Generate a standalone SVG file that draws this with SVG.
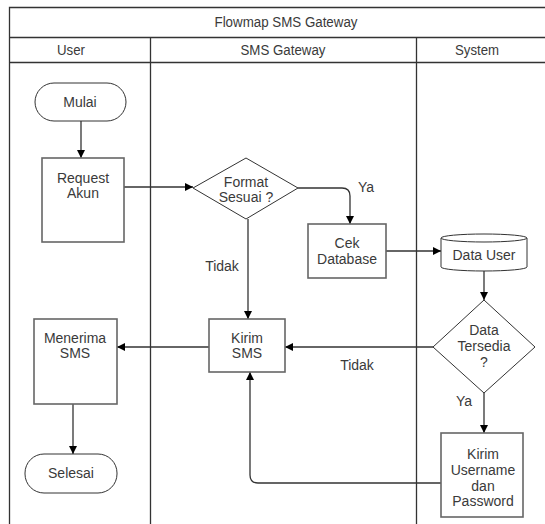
<svg xmlns="http://www.w3.org/2000/svg" width="545" height="524" viewBox="0 0 545 524">
<defs>
<style>
text{font-family:"Liberation Sans",Arial,sans-serif;font-size:14px;fill:#3a3a3a;text-anchor:middle}
text.hd{font-size:15.5px}
.lane{fill:none;stroke:#333;stroke-width:1.3}
.box{fill:#fff;stroke:#666;stroke-width:1.6}
.term{fill:#fff;stroke:#333;stroke-width:1}
.edge{fill:none;stroke:#333;stroke-width:1.3}
</style>
<marker id="ah" viewBox="0 0 10 10" refX="10" refY="5" markerWidth="8" markerHeight="8" markerUnits="userSpaceOnUse" orient="auto">
<path d="M0,0 L10,5 L0,10 Z" fill="#000"/>
</marker>
</defs>
<rect width="545" height="524" fill="#fff"/>
<g id="pool">
<path class="lane" d="M9.5,530 V7.5 H545 M9.5,37.5 H545 M9.5,62.5 H545 M150.5,37.5 V530 M416.5,37.5 V530"/>
<text class="hd" x="286" y="27" textLength="143" lengthAdjust="spacingAndGlyphs">Flowmap SMS Gateway</text>
<text class="hd" x="71" y="55" textLength="28" lengthAdjust="spacingAndGlyphs">User</text>
<text class="hd" x="283" y="55" textLength="85" lengthAdjust="spacingAndGlyphs">SMS Gateway</text>
<text class="hd" x="477" y="55" textLength="44" lengthAdjust="spacingAndGlyphs">System</text>
</g>
<g id="connectors">
<path class="edge" marker-end="url(#ah)" d="M81,121 V158"/>
<path class="edge" marker-end="url(#ah)" d="M124,187 H193"/>
<path class="edge" marker-end="url(#ah)" d="M298,188 H342 Q350,188 350,196 V224"/>
<path class="edge" marker-end="url(#ah)" d="M248,219 V319"/>
<path class="edge" marker-end="url(#ah)" d="M386,251 H441"/>
<path class="edge" marker-end="url(#ah)" d="M484,271 V300"/>
<path class="edge" marker-end="url(#ah)" d="M433,347 H285"/>
<path class="edge" marker-end="url(#ah)" d="M484,393 V433"/>
<path class="edge" marker-end="url(#ah)" d="M441,483 H258 Q250,483 250,475 V372"/>
<path class="edge" marker-end="url(#ah)" d="M209,347 H117"/>
<path class="edge" marker-end="url(#ah)" d="M73,404 V454"/>
<text x="366" y="192">Ya</text>
<text x="222" y="271">Tidak</text>
<text x="357" y="370">Tidak</text>
<text x="464" y="406">Ya</text>
</g>
<g id="mulai">
<rect class="term" x="35" y="83" width="91" height="38" rx="19"/>
<text x="80" y="107">Mulai</text>
</g>
<g id="request-akun">
<rect class="box" x="42" y="158" width="82" height="84"/>
<text x="83" y="183">Request</text>
<text x="83" y="198">Akun</text>
</g>
<g id="format-sesuai">
<polygon class="term" points="193,188 246,158 298,188 246,219"/>
<text x="246" y="187">Format</text>
<text x="246" y="202">Sesuai ?</text>
</g>
<g id="cek-database">
<rect class="box" x="308" y="224" width="78" height="54"/>
<text x="347" y="248">Cek</text>
<text x="347" y="264">Database</text>
</g>
<g id="data-user">
<path class="term" d="M441,238 A43,4 0 0 1 527,238 V267 A43,4 0 0 1 441,267 Z"/>
<path class="term" fill="none" d="M441,238 A43,4 0 0 0 527,238"/>
<text x="484" y="260">Data User</text>
</g>
<g id="data-tersedia">
<polygon class="term" points="433,347 484,300 535,347 484,393"/>
<text x="484" y="335">Data</text>
<text x="484" y="351">Tersedia</text>
<text x="484" y="367">?</text>
</g>
<g id="kirim-sms">
<rect class="box" x="209" y="319" width="76" height="53"/>
<text x="247" y="343">Kirim</text>
<text x="247" y="358">SMS</text>
</g>
<g id="menerima-sms">
<rect class="box" x="34" y="319" width="83" height="85"/>
<text x="75" y="343">Menerima</text>
<text x="75" y="358">SMS</text>
</g>
<g id="selesai">
<rect class="term" x="25" y="454" width="92" height="39" rx="19"/>
<text x="71" y="478">Selesai</text>
</g>
<g id="kirim-username">
<rect class="box" x="441" y="433" width="82" height="84"/>
<text x="483" y="459">Kirim</text>
<text x="483" y="475">Username</text>
<text x="483" y="491">dan</text>
<text x="483" y="506">Password</text>
</g>
</svg>
